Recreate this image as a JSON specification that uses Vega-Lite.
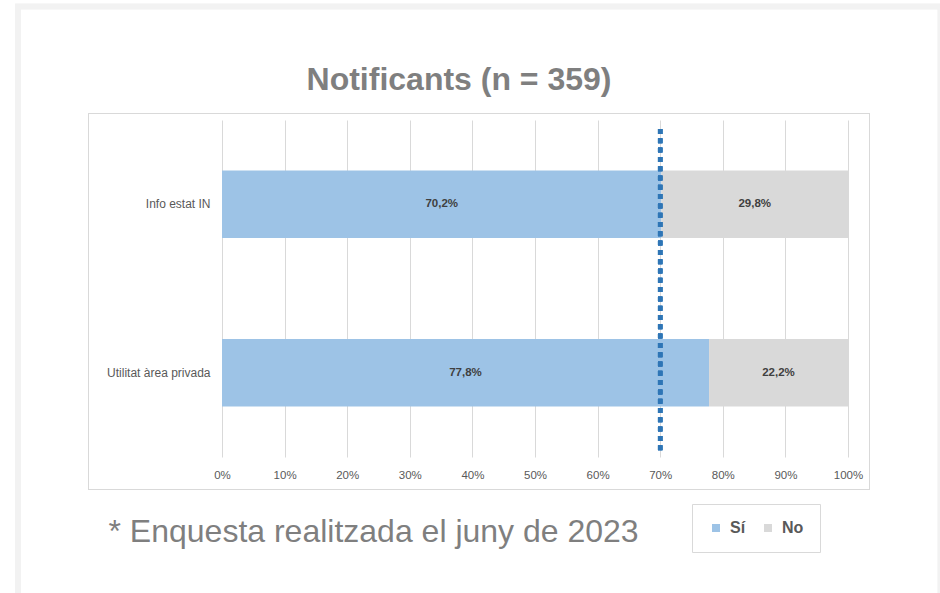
{
  "$schema": "https://vega.github.io/schema/vega-lite/v6.json",
  "width": 626,
  "height": 337,
  "autosize": {"type": "none"},
  "padding": {"left": 222, "top": 120, "right": 92, "bottom": 136},
  "background": "white",
  "title": {
    "text": "Notificants (n = 359)",
    "anchor": "middle",
    "frame": "group",
    "dx": -76,
    "offset": -118.25,
    "baseline": "alphabetic",
    "font": "Liberation Sans",
    "fontSize": 32,
    "fontWeight": "bold",
    "color": "#7f7f7f"
  },
  "config": {
    "view": {"stroke": null},
    "locale": {
      "number": {"decimal": ",", "thousands": ".", "grouping": [3], "currency": ["", " €"]}
    },
    "axis": {"labelFont": "Liberation Sans", "titleFont": "Liberation Sans"},
    "legend": {"labelFont": "Liberation Sans"}
  },
  "data": {
    "values": [
      {"cat": "Info estat IN", "answer": "Sí", "value": 0.702},
      {"cat": "Info estat IN", "answer": "No", "value": 0.298},
      {"cat": "Utilitat àrea privada", "answer": "Sí", "value": 0.778},
      {"cat": "Utilitat àrea privada", "answer": "No", "value": 0.222}
    ]
  },
  "resolve": {"scale": {"y": "independent"}},
  "layer": [
    {
      "layer": [
        {
          "mark": {"type": "rect", "filled": false, "stroke": "#f2f2f2", "strokeWidth": 5.5},
          "encoding": {
            "x": {"datum": -0.32588, "type": "quantitative", "scale": {"domain": [0, 1], "nice": false}},
            "x2": {"datum": 1.14776},
            "y": {"datum": 1.3368, "type": "quantitative", "scale": {"domain": [0, 1], "nice": false}, "axis": null},
            "y2": {"datum": -0.45401}
          }
        },
        {
          "mark": {"type": "rect", "filled": false, "stroke": "#d9d9d9", "strokeWidth": 1},
          "encoding": {
            "x": {"datum": -0.21326, "type": "quantitative", "scale": {"domain": [0, 1], "nice": false}},
            "x2": {"datum": 1.03435},
            "y": {"datum": 1.01929, "type": "quantitative", "scale": {"domain": [0, 1], "nice": false}, "axis": null},
            "y2": {"datum": -0.09644}
          }
        }
      ]
    },
    {
      "transform": [
        {"stack": "value", "groupby": ["cat"], "sort": [{"field": "answer", "order": "descending"}], "as": ["lo", "hi"]}
      ],
      "layer": [
        {
          "mark": {"type": "bar"},
          "encoding": {
            "y": {
              "field": "cat", "type": "nominal",
              "sort": ["Info estat IN", "Utilitat àrea privada"],
              "scale": {"paddingInner": 0.6, "paddingOuter": 0.3},
              "axis": {"title": null, "domain": false, "ticks": false, "labelPadding": 12, "labelFontSize": 12, "labelColor": "#595959"}
            },
            "x": {
              "field": "lo", "type": "quantitative",
              "scale": {"domain": [0, 1], "nice": false},
              "axis": {
                "values": [0, 0.1, 0.2, 0.3, 0.4, 0.5, 0.6, 0.7, 0.8, 0.9, 1],
                "format": ".0%",
                "grid": true, "gridColor": "#d9d9d9", "gridWidth": 1,
                "domain": false, "ticks": false,
                "labelFlush": false, "labelOverlap": false,
                "labelPadding": 12, "labelFontSize": 11.5, "labelColor": "#595959",
                "title": "* Enquesta realitzada el juny de 2023",
                "titleX": -114, "titleY": 84, "titleAlign": "left", "titleAnchor": null, "titleBaseline": "alphabetic",
                "titleFontSize": 32, "titleFontWeight": "normal", "titleColor": "#7f7f7f"
              }
            },
            "x2": {"field": "hi"},
            "color": {
              "field": "answer", "type": "nominal",
              "scale": {"domain": ["Sí", "No"], "range": ["#9dc3e6", "#d9d9d9"]},
              "legend": {
                "orient": "none", "legendX": 470, "legendY": 384, "direction": "horizontal",
                "title": null, "symbolType": "square", "symbolSize": 64, "symbolStrokeWidth": 0,
                "labelFontSize": 16, "labelFontWeight": "bold", "labelColor": "#595959",
                "padding": 16, "strokeColor": "#d9d9d9", "fillColor": "white",
                "columnPadding": 14, "labelOffset": 6
              }
            }
          }
        },
        {
          "transform": [{"fold": ["lo", "hi"], "as": ["k", "pos"]}],
          "mark": {"type": "text", "font": "Liberation Sans", "fontSize": 11.5, "fontWeight": "bold", "color": "#404040"},
          "encoding": {
            "y": {"field": "cat", "type": "nominal", "sort": ["Info estat IN", "Utilitat àrea privada"], "scale": {"paddingInner": 0.6, "paddingOuter": 0.3}},
            "x": {"aggregate": "mean", "field": "pos", "type": "quantitative", "scale": {"domain": [0, 1], "nice": false}},
            "detail": {"field": "answer", "type": "nominal"},
            "text": {"field": "value", "type": "quantitative", "format": ".1%"}
          }
        }
      ]
    },
    {
      "mark": {"type": "rule", "stroke": "#2e75b6", "strokeWidth": 4.5, "strokeDash": [5, 4.3]},
      "encoding": {
        "x": {"datum": 0.7, "type": "quantitative", "scale": {"domain": [0, 1], "nice": false}},
        "y": {"datum": 0.9733, "type": "quantitative", "scale": {"domain": [0, 1], "nice": false}, "axis": null},
        "y2": {"datum": 0.0178}
      }
    }
  ]
}
